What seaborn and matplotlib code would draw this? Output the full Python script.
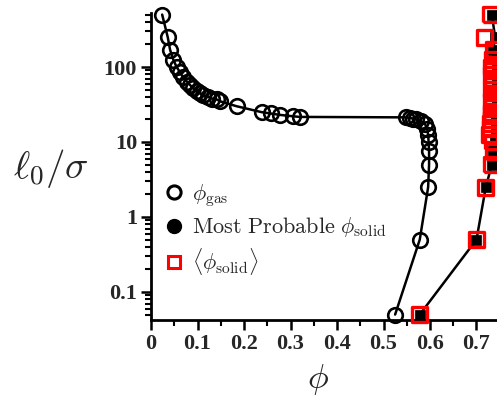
import numpy as np
import matplotlib
matplotlib.use('Agg')
import matplotlib.pyplot as plt
import seaborn as sns
from matplotlib.lines import Line2D
from matplotlib.ticker import MultipleLocator, LogLocator, NullFormatter

# Data
gas_l = [0.05, 0.5, 2.5, 5, 7.5, 10, 12.5, 15, 17.5, 19, 20, 20.5, 21, 21.3,
         21.6, 22, 23, 24, 25, 30, 35, 37, 38, 40, 42, 45, 48, 52, 57.5, 64,
         74, 86, 100, 125, 170, 250, 500]
gas_phi = [0.525, 0.578, 0.596, 0.598, 0.598, 0.597, 0.596, 0.594, 0.589, 0.580,
           0.570, 0.563, 0.556, 0.548, 0.320, 0.306, 0.277, 0.257, 0.238, 0.184,
           0.148, 0.141, 0.131, 0.123, 0.112, 0.105, 0.098, 0.091, 0.084, 0.077,
           0.068, 0.062, 0.055, 0.048, 0.041, 0.036, 0.024]

solid_l = [0.05, 0.5, 2.5, 5, 7.5, 10, 12.5, 15, 17.5, 20, 22.5, 25, 30, 35, 40,
           45, 50, 60, 70, 80, 90, 100, 125, 170, 250, 500]
solid_prob_phi = [0.578, 0.700, 0.720, 0.733, 0.736, 0.739, 0.741, 0.742, 0.742,
                  0.743, 0.743, 0.744, 0.744, 0.744, 0.745, 0.745, 0.745, 0.745,
                  0.745, 0.745, 0.745, 0.745, 0.744, 0.736, 0.740, 0.733]
solid_mean_phi = [0.578, 0.700, 0.720, 0.733, 0.736, 0.735, 0.728, 0.730, 0.731,
                  0.732, 0.733, 0.732, 0.734, 0.733, 0.735, 0.734, 0.733, 0.734,
                  0.735, 0.733, 0.734, 0.733, 0.734, 0.736, 0.718, 0.731]

x_ticks = [0, 0.1, 0.2, 0.3, 0.4, 0.5, 0.6, 0.7]
x_labels = ['0', '0.1', '0.2', '0.3', '0.4', '0.5', '0.6', '0.7']
y_ticks = [0.1, 1, 10, 100]
y_labels = ['0.1', '1', '10', '100']

sns.set_style('ticks')
plt.rcParams['mathtext.fontset'] = 'cm'
plt.rcParams['font.family'] = ['DejaVu Sans']

fig = plt.figure(figsize=(4.97, 3.97), dpi=100)
ax = fig.add_axes([151/497, 1 - 320/397, 346/497, 307/397])

lw = 1.8
sns.lineplot(x=gas_phi, y=gas_l, sort=False, estimator=None, ax=ax,
             color='black', lw=lw, marker='o', ms=10.5, mfc='none', mec='black',
             mew=1.9, clip_on=False, zorder=3)
sns.lineplot(x=solid_prob_phi, y=solid_l, sort=False, estimator=None, ax=ax,
             color='black', lw=lw, marker='s', ms=6.5, mfc='black', mec='black',
             mew=0.5, clip_on=False, zorder=3)
sns.scatterplot(x=solid_mean_phi, y=solid_l, ax=ax, marker='s', s=115,
                facecolor='none', edgecolor='red', linewidth=2.4, zorder=4,
                clip_on=False)

ax.set_yscale('log')
ax.set_xlim(0, 346/465)
ax.set_ylim(0.0423, 525)

ax.set_xticks(x_ticks, x_labels)
ax.xaxis.set_minor_locator(MultipleLocator(0.05))
ax.set_yticks(y_ticks, y_labels)
ax.yaxis.set_minor_locator(LogLocator(base=10, subs=np.arange(2, 10)))
ax.yaxis.set_minor_formatter(NullFormatter())

for lab in ax.get_xticklabels() + ax.get_yticklabels():
    lab.set_fontfamily('Liberation Serif')
    lab.set_fontweight('bold')
    lab.set_fontsize(16)

ax.tick_params(which='major', direction='out', length=7, width=1.8, color='black', pad=3)
ax.tick_params(which='minor', direction='out', length=4, width=1.5, color='black')

sns.despine(ax=ax)
for sp in ['left', 'bottom']:
    ax.spines[sp].set_linewidth(2.0)
    ax.spines[sp].set_color('black')

ax.set_xlabel(r'$\phi$', fontsize=25, va='center')
ax.xaxis.set_label_coords(0.483, -0.195)
ax.set_ylabel(r'$\ell_0/\sigma$', fontsize=28, rotation=0, ha='center', va='center')
ax.yaxis.set_label_coords(-0.289, 0.495)

handles = [
    Line2D([], [], ls='none', marker='o', ms=9.5, mfc='none', mec='black', mew=2.2),
    Line2D([], [], ls='none', marker='o', ms=10, mfc='black', mec='black'),
    Line2D([], [], ls='none', marker='s', ms=8.5, mfc='none', mec='red', mew=2.2),
]
labels = [r'$\phi_{\mathrm{gas}}$',
          r'$\mathrm{Most\ Probable}\ \phi_{\mathrm{solid}}$',
          r'$\langle\phi_{\mathrm{solid}}\rangle$']
ax.legend(handles, labels, loc='upper left', bbox_to_anchor=(0.04, 0.45),
          frameon=False, fontsize=16, handlelength=0.8, handletextpad=0.4,
          labelspacing=0.3, borderpad=0, borderaxespad=0)

fig.savefig('out.png', dpi=100)
